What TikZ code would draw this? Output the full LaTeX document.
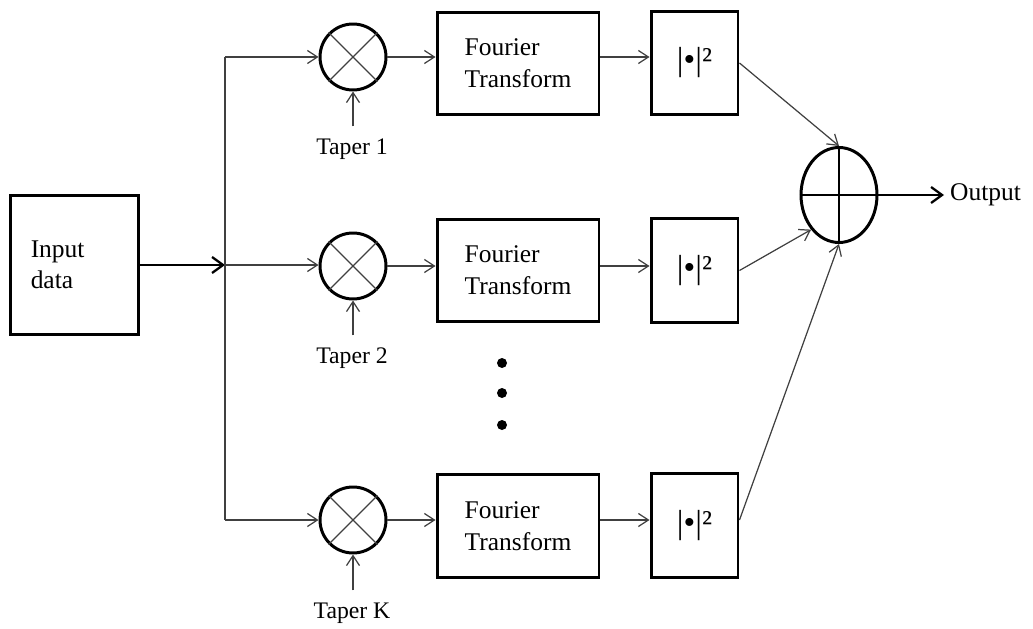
\documentclass[tikz,border=0pt]{standalone}
\usepackage{fontspec}
\setmainfont{Liberation Serif}
\usepackage{tikz}
\usetikzlibrary{shapes.geometric, arrows.meta}
\tikzstyle{inbox} = [rectangle, minimum width=2.58cm, minimum height=2.8cm, text width=1.75cm, align=left, draw=black, line width=1.7pt, font=\fontsize{14.5}{17.5}\selectfont]
\tikzstyle{ftbox} = [rectangle, minimum width=3.24cm, minimum height=2.06cm, align=left, draw=black, line width=1.7pt, font=\fontsize{14.5}{18}\selectfont]
\tikzstyle{sqbox} = [rectangle, minimum width=1.74cm, minimum height=2.08cm, draw=black, line width=1.7pt, font=\fontsize{19}{22}\selectfont]
\tikzstyle{mult} = [circle, minimum size=1.32cm, inner sep=0pt, draw=black, line width=1.7pt]
\tikzstyle{adder} = [ellipse, minimum width=1.52cm, minimum height=1.9cm, inner sep=0pt, draw=black, line width=1.7pt]
\tikzstyle{taper} = [inner sep=0.24cm, font=\fontsize{13.5}{16}\selectfont]
\tikzstyle{line} = [line width=0.7pt, draw=black!75]
\tikzstyle{arrow} = [line width=0.7pt, draw=black!75, -{Straight Barb[length=2mm,width=2.6mm]}]
\tikzstyle{bigarrow} = [line width=1.3pt, draw=black, -{Straight Barb[length=2.2mm,width=3.2mm,line width=1.3pt]}]

\begin{document}
\begin{tikzpicture}[x=0.02cm, y=-0.02cm]
\useasboundingbox (0,0) rectangle (1033,628);

\node (in) [inbox] at (74.5,265) {Input\\data};
\coordinate (split) at (225,265);
\coordinate (top) at (225,57);
\coordinate (bot) at (225,520);

\node (mul1) [mult] at (353,57) {};
\node (mul2) [mult] at (353,266) {};
\node (mul3) [mult] at (353,520) {};
\node (tap1) [taper] at (352,149) {Taper 1};
\node (tap2) [taper] at (352,358) {Taper 2};
\node (tap3) [taper] at (352,613) {Taper K};

\node (ft1) [ftbox] at (518,63.5) {Fourier\\Transform};
\node (ft2) [ftbox] at (518,270.5) {Fourier\\Transform};
\node (ft3) [ftbox] at (518,526) {Fourier\\Transform};
\node (sq1) [sqbox] at (694.5,63) {|•|²};
\node (sq2) [sqbox] at (694.5,270.5) {|•|²};
\node (sq3) [sqbox] at (694.5,525.5) {|•|²};

\node (sum) [adder] at (839,195) {};
\node (out) [anchor=west, font=\fontsize{14.5}{17}\selectfont] at (944,195) {Output};

% crosses and plus
\draw[line] (mul1.north west) -- (mul1.south east) (mul1.north east) -- (mul1.south west);
\draw[line] (mul2.north west) -- (mul2.south east) (mul2.north east) -- (mul2.south west);
\draw[line] (mul3.north west) -- (mul3.south east) (mul3.north east) -- (mul3.south west);
\draw[line, draw=black] (sum.north) -- (sum.south) (sum.west) -- (sum.east);

\draw[bigarrow] (in.east |- split) -- (split);
\draw[line] (top) -- (bot);
\draw[arrow] (top) -- (mul1.west);
\draw[arrow] (split) -- (split -| mul2.west);
\draw[arrow] (bot) -- (mul3.west);

\draw[arrow] (mul1.south |- tap1.north) -- (mul1.south);
\draw[arrow] (mul2.south |- tap2.north) -- (mul2.south);
\draw[arrow] (mul3.south |- tap3.north) -- (mul3.south);

\draw[arrow] (mul1.east) -- (mul1.east -| ft1.west);
\draw[arrow] (mul2.east) -- (mul2.east -| ft2.west);
\draw[arrow] (mul3.east) -- (mul3.east -| ft3.west);
\draw[arrow] (mul1.east -| ft1.east) -- (mul1.east -| sq1.west);
\draw[arrow] (mul2.east -| ft2.east) -- (mul2.east -| sq2.west);
\draw[arrow] (mul3.east -| ft3.east) -- (mul3.east -| sq3.west);

\draw[arrow] (sq1.east) -- (sum.north);
\draw[arrow] (sq2.east) -- (sum.south west);
\draw[arrow] (mul3.east -| sq3.east) -- (sum.south);
\draw[bigarrow] (sum.east) -- (out.west);

% dots
\fill (502,363) circle (5);
\fill (502,393) circle (5);
\fill (502,425) circle (5);
\end{tikzpicture}
\end{document}
